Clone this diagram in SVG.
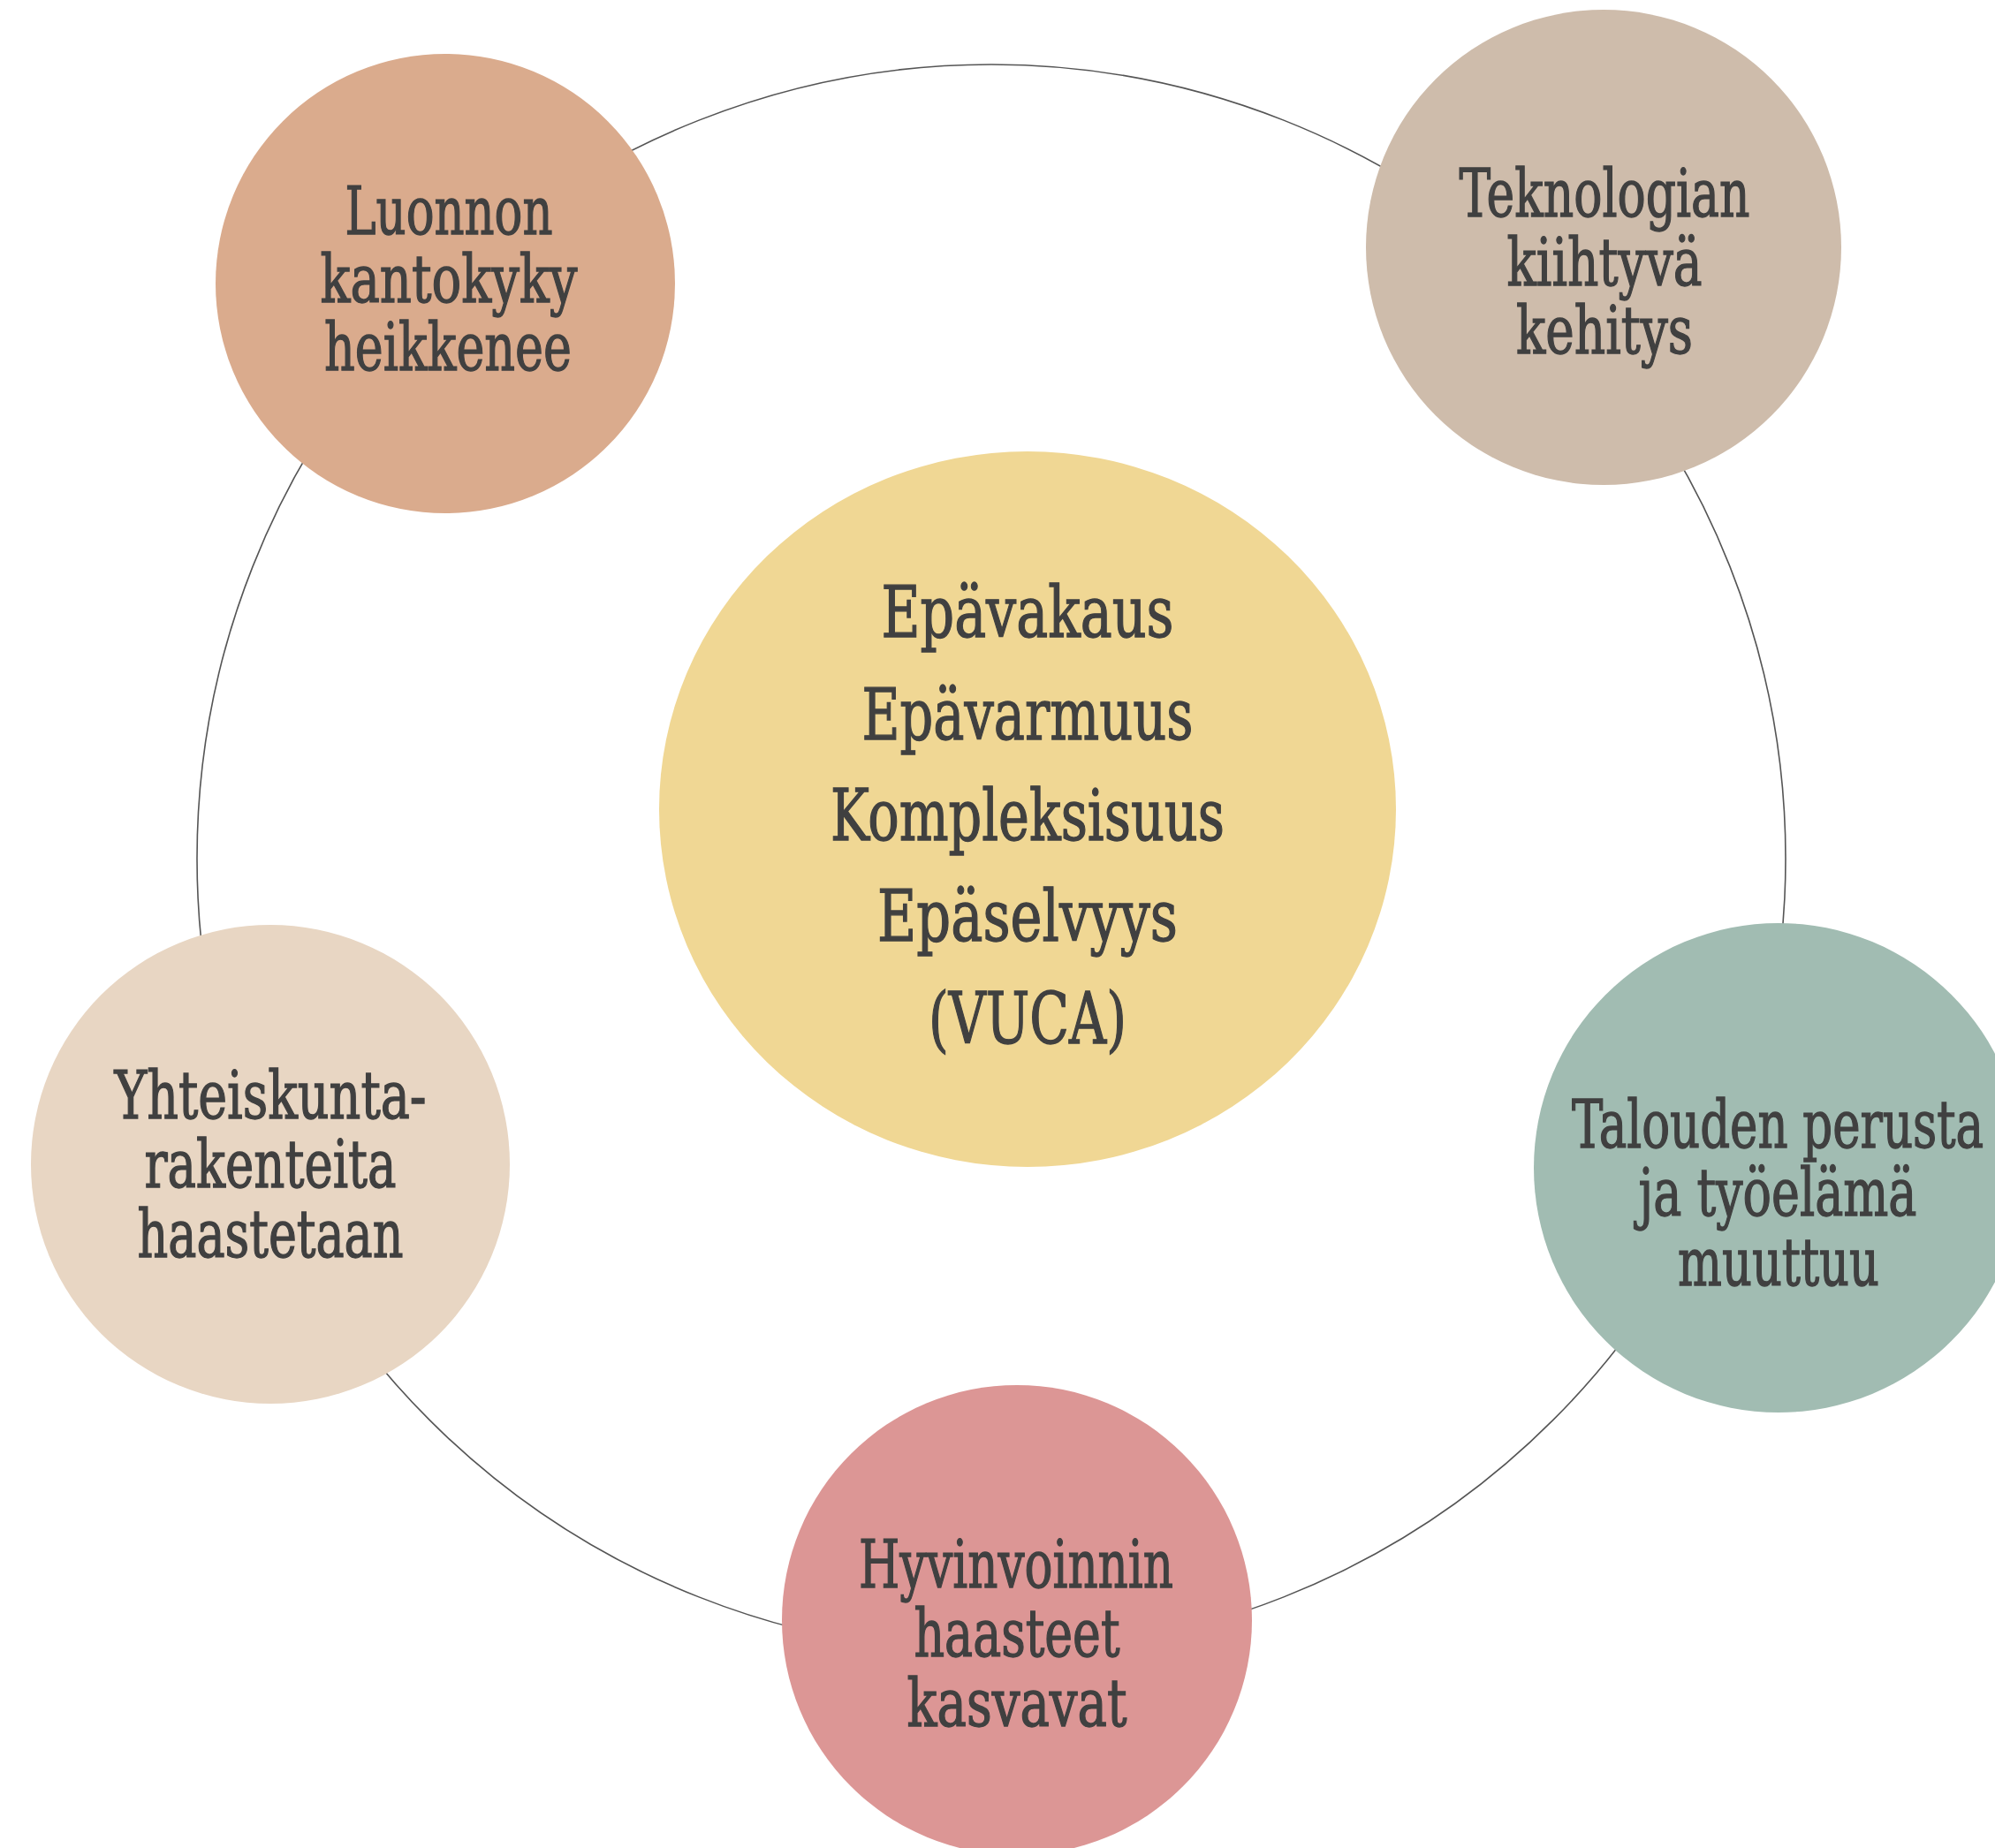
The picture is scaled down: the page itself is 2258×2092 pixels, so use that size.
<svg xmlns="http://www.w3.org/2000/svg" width="2258" height="2092" viewBox="0 0 2258 2092">
<style>
.t{font-family:"DejaVu Serif Condensed","DejaVu Serif","Liberation Serif",serif;font-stretch:condensed;fill:#404040;stroke:#404040;stroke-width:1.3;text-anchor:middle;font-size:74px}
.c{font-size:81px}
.ring{fill:none;stroke:#555555;stroke-width:1.6}
</style>
<rect width="2258" height="2092" fill="#ffffff"/>
<g id="connectors">
<circle class="ring" cx="1122" cy="972" r="899"/>
</g>
<g id="node-center">
<ellipse cx="1163" cy="916" rx="417" ry="405" fill="#F0D794"/>
<text class="t c" x="1163" y="721" textLength="331" lengthAdjust="spacingAndGlyphs">Epävakaus</text>
<text class="t c" x="1163" y="837" textLength="375" lengthAdjust="spacingAndGlyphs">Epävarmuus</text>
<text class="t c" x="1163" y="951" textLength="446" lengthAdjust="spacingAndGlyphs">Kompleksisuus</text>
<text class="t c" x="1163" y="1065" textLength="340" lengthAdjust="spacingAndGlyphs">Epäselvyys</text>
<text class="t c" x="1163" y="1181" textLength="224" lengthAdjust="spacingAndGlyphs">(VUCA)</text>
</g>
<g id="node-luonnon">
<circle cx="504" cy="321" r="260" fill="#DAAB8D"/>
<text class="t" x="508" y="265" textLength="235" lengthAdjust="spacingAndGlyphs">Luonnon</text>
<text class="t" x="508" y="342" textLength="291" lengthAdjust="spacingAndGlyphs">kantokyky</text>
<text class="t" x="507" y="419" textLength="280" lengthAdjust="spacingAndGlyphs">heikkenee</text>
</g>
<g id="node-teknologian">
<circle cx="1815" cy="280" r="269" fill="#CEBCAB"/>
<text class="t" x="1816" y="245" textLength="329" lengthAdjust="spacingAndGlyphs">Teknologian</text>
<text class="t" x="1816" y="323" textLength="221" lengthAdjust="spacingAndGlyphs">kiihtyvä</text>
<text class="t" x="1816" y="400" textLength="200" lengthAdjust="spacingAndGlyphs">kehitys</text>
</g>
<g id="node-yhteiskunta">
<circle cx="306" cy="1318" r="271" fill="#E8D6C3"/>
<text class="t" x="306" y="1266" textLength="353" lengthAdjust="spacingAndGlyphs">Yhteiskunta-</text>
<text class="t" x="306" y="1344" textLength="285" lengthAdjust="spacingAndGlyphs">rakenteita</text>
<text class="t" x="306" y="1423" textLength="301" lengthAdjust="spacingAndGlyphs">haastetaan</text>
</g>
<g id="node-talouden">
<circle cx="2013" cy="1322" r="277" fill="#A1BCB2"/>
<text class="t" x="2012" y="1299" textLength="466" lengthAdjust="spacingAndGlyphs">Talouden perusta</text>
<text class="t" x="2012" y="1376" textLength="315" lengthAdjust="spacingAndGlyphs">ja työelämä</text>
<text class="t" x="2013" y="1455" textLength="228" lengthAdjust="spacingAndGlyphs">muuttuu</text>
</g>
<g id="node-hyvinvoinnin">
<circle cx="1151" cy="1834" r="266" fill="#DC9695"/>
<text class="t" x="1150" y="1797" textLength="356" lengthAdjust="spacingAndGlyphs">Hyvinvoinnin</text>
<text class="t" x="1151" y="1875" textLength="233" lengthAdjust="spacingAndGlyphs">haasteet</text>
<text class="t" x="1151" y="1954" textLength="249" lengthAdjust="spacingAndGlyphs">kasvavat</text>
</g>
</svg>
